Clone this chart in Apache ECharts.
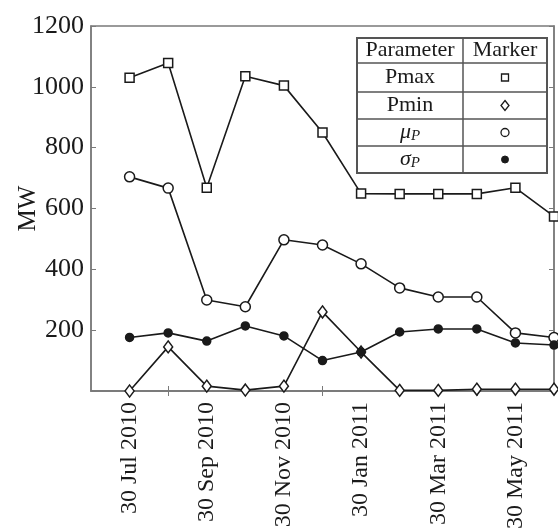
<!DOCTYPE html>
<html>
<head>
<meta charset="utf-8">
<script src="https://cdn.jsdelivr.net/npm/echarts@6/dist/echarts.min.js"></script>
<style>
  html, body { margin: 0; padding: 0; background: #fff; }
  #chart { width: 558px; height: 528px; }
</style>
</head>
<body>
<div id="chart"></div>
<script>
// Monthly snapshots (index 0 is the axis origin, data start at index 1)
const months = ['30 Jun 2010', '30 Jul 2010', '30 Aug 2010', '30 Sep 2010', '30 Oct 2010',
  '30 Nov 2010', '30 Dec 2010', '30 Jan 2011', '28 Feb 2011', '30 Mar 2011',
  '30 Apr 2011', '30 May 2011', '30 Jun 2011'];

// Power statistics in MW, one value per month from 30 Jul 2010
const pmax  = [1030, 1078, 668, 1035, 1004, 850, 649, 648, 648, 648, 668, 574];
const pmin  = [0, 145, 16, 3, 16, 260, 128, 2, 2, 6, 6, 6];
const muP   = [704, 667, 299, 277, 497, 480, 418, 339, 309, 309, 191, 176];
const sigmaP = [176, 191, 164, 214, 181, 100, 128, 194, 204, 204, 158, 151];

const yTicks = [0, 200, 400, 600, 800, 1000, 1200];

const serif = 'Liberation Serif';
const ink = '#1a1a1a';
const frame = '#7a7a7a';

const toPoints = arr => arr.map((v, i) => [i + 1, v]);

const chart = echarts.init(document.getElementById('chart'));

function lineSeries(name, values, symbol, size, filled) {
  return {
    name: name,
    type: 'line',
    data: toPoints(values),
    symbol: symbol,
    symbolSize: size,
    showAllSymbol: true,
    lineStyle: { color: ink, width: 1.6 },
    itemStyle: { color: filled ? ink : '#fff', borderColor: ink, borderWidth: 1.5 },
    z: 3
  };
}

// Parameter / Marker table in the upper-right corner
const tbl = { x0: 357, x1: 547, xm: 463, rows: [38, 63, 92, 119, 146, 173] };
const rowMid = i => (tbl.rows[i] + tbl.rows[i + 1]) / 2;
const c1 = (tbl.x0 + tbl.xm) / 2;
const c2 = (tbl.xm + tbl.x1) / 2;
const tStyle = { fontFamily: serif, fontSize: 22, fill: ink, align: 'center', verticalAlign: 'middle' };
const subRich = {
  g: { fontFamily: serif, fontStyle: 'italic', fontSize: 22, fill: ink },
  s: { fontFamily: serif, fontStyle: 'italic', fontSize: 15, fill: ink, verticalAlign: 'bottom', padding: [8, 0, 0, 0] }
};

const graphics = [
  { type: 'rect', shape: { x: tbl.x0, y: tbl.rows[0], width: tbl.x1 - tbl.x0, height: tbl.rows[5] - tbl.rows[0] },
    style: { fill: '#fff', stroke: '#555', lineWidth: 2 }, z: 10 },
  { type: 'line', shape: { x1: tbl.xm, y1: tbl.rows[0], x2: tbl.xm, y2: tbl.rows[5] },
    style: { stroke: '#555', lineWidth: 1.5 }, z: 11 }
];
for (let i = 1; i < 5; i++) {
  graphics.push({ type: 'line', shape: { x1: tbl.x0, y1: tbl.rows[i], x2: tbl.x1, y2: tbl.rows[i] },
    style: { stroke: '#555', lineWidth: 1.5 }, z: 11 });
}
graphics.push(
  { type: 'text', x: c1, y: rowMid(0), style: Object.assign({ text: 'Parameter' }, tStyle), z: 12 },
  { type: 'text', x: c2, y: rowMid(0), style: Object.assign({ text: 'Marker' }, tStyle), z: 12 },
  { type: 'text', x: c1, y: rowMid(1), style: Object.assign({ text: 'Pmax' }, tStyle), z: 12 },
  { type: 'text', x: c1, y: rowMid(2), style: Object.assign({ text: 'Pmin' }, tStyle), z: 12 },
  { type: 'text', x: c1, y: rowMid(3), style: Object.assign({}, tStyle, { text: '{g|μ}{s|P}', rich: subRich }), z: 12 },
  { type: 'text', x: c1, y: rowMid(4), style: Object.assign({}, tStyle, { text: '{g|σ}{s|P}', rich: subRich }), z: 12 },
  { type: 'rect', shape: { x: c2 - 3.5, y: rowMid(1) - 3.5, width: 7, height: 7 },
    style: { fill: '#fff', stroke: ink, lineWidth: 1.3 }, z: 12 },
  { type: 'polygon', shape: { points: [[c2, rowMid(2) - 5], [c2 + 4, rowMid(2)], [c2, rowMid(2) + 5], [c2 - 4, rowMid(2)]] },
    style: { fill: '#fff', stroke: ink, lineWidth: 1.3 }, z: 12 },
  { type: 'circle', shape: { cx: c2, cy: rowMid(3), r: 4 },
    style: { fill: '#fff', stroke: ink, lineWidth: 1.3 }, z: 12 },
  { type: 'circle', shape: { cx: c2, cy: rowMid(4), r: 3.5 },
    style: { fill: ink, stroke: ink, lineWidth: 1 }, z: 12 }
);

const labelShown = idx => idx % 2 === 1 && idx < months.length - 1;
const tickShown = idx => idx % 2 === 0 && idx > 0 && idx < months.length - 1;

const option = {
  animation: false,
  backgroundColor: '#fff',
  grid: { left: 91, right: 4, top: 26, bottom: 137, containLabel: false, outerBoundsMode: 'none',
    show: true, borderColor: frame, borderWidth: 1.5, backgroundColor: 'transparent' },
  xAxis: [
    {
      type: 'category', data: months, boundaryGap: false, position: 'bottom',
      axisLine: { show: true, lineStyle: { color: frame, width: 1.5 } },
      axisTick: { show: true, inside: true, length: 5, interval: tickShown, lineStyle: { color: frame } },
      axisLabel: { show: true, interval: labelShown, rotate: 90, margin: 11,
        fontFamily: serif, fontSize: 24, color: ink },
      splitLine: { show: false }
    },
    {
      type: 'category', data: months, boundaryGap: false, position: 'top',
      axisLine: { show: true, lineStyle: { color: frame, width: 1.5 } },
      axisTick: { show: true, inside: true, length: 5, interval: tickShown, lineStyle: { color: frame } },
      axisLabel: { show: false },
      splitLine: { show: false }
    }
  ],
  yAxis: [
    {
      type: 'value', min: yTicks[0], max: yTicks[yTicks.length - 1], interval: 200, position: 'left',
      name: 'MW', nameLocation: 'middle', nameGap: 50, nameRotate: 90, nameMoveOverlap: false,
      nameTextStyle: { fontFamily: serif, fontSize: 25, color: ink },
      axisLine: { show: true, lineStyle: { color: frame, width: 1.5 } },
      axisTick: { show: true, inside: true, length: 5, lineStyle: { color: frame } },
      axisLabel: { fontFamily: serif, fontSize: 26, color: ink, margin: 7,
        formatter: v => (v === 0 ? '' : String(v)) },
      splitLine: { show: false }
    },
    {
      type: 'value', min: yTicks[0], max: yTicks[yTicks.length - 1], interval: 200, position: 'right',
      axisLine: { show: true, lineStyle: { color: frame, width: 1.5 } },
      axisTick: { show: true, inside: true, length: 5, lineStyle: { color: frame } },
      axisLabel: { show: false },
      splitLine: { show: false }
    }
  ],
  series: [
    lineSeries('Pmax', pmax, 'rect', 9, false),
    lineSeries('Pmin', pmin, 'diamond', [9, 12], false),
    lineSeries('μP', muP, 'circle', 10, false),
    lineSeries('σP', sigmaP, 'circle', 8, true)
  ],
  graphic: graphics
};

chart.setOption(option);
</script>
</body>
</html>
